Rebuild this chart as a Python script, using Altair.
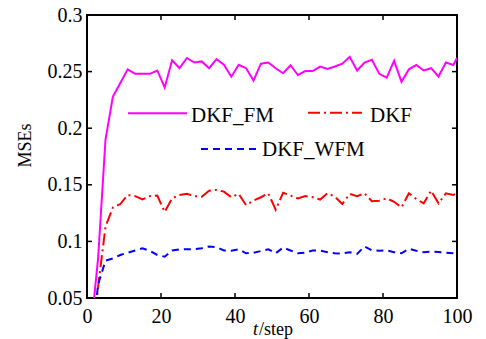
import altair as alt
import pandas as pd

# ---------------- data ----------------
steps = [1, 3, 5, 7, 9, 11, 13, 15, 17, 19, 21, 23, 25, 27, 29, 31, 33, 35, 37, 39,
         41, 43, 45, 47, 49, 51, 53, 55, 57, 59, 61, 63, 65, 67, 69, 71, 73, 75, 77, 79,
         81, 83, 85, 87, 89, 91, 93, 95, 97, 99, 100]

dkf_fm = [0.02, 0.085, 0.19, 0.228, 0.240, 0.252, 0.248, 0.248, 0.248, 0.251,
          0.236, 0.260, 0.253, 0.262, 0.258, 0.259, 0.253, 0.261, 0.256, 0.2455,
          0.256, 0.253, 0.242, 0.257, 0.258, 0.253, 0.2485, 0.2556, 0.247, 0.2505,
          0.2505, 0.2544, 0.2523, 0.2545, 0.257, 0.263, 0.251, 0.258, 0.2605, 0.248,
          0.2447, 0.2597, 0.241, 0.252, 0.2558, 0.251, 0.253, 0.2457, 0.258, 0.2558,
          0.262]

dkf = [0.0, 0.06, 0.113, 0.130, 0.133, 0.141, 0.140, 0.137, 0.140, 0.1405,
       0.126, 0.138, 0.141, 0.142, 0.140, 0.1395, 0.1448, 0.1455, 0.144, 0.139,
       0.142, 0.132, 0.136, 0.139, 0.1425, 0.128, 0.143, 0.1405, 0.138, 0.140,
       0.139, 0.137, 0.1425, 0.1395, 0.133, 0.142, 0.140, 0.1425, 0.1355, 0.136,
       0.138, 0.135, 0.130, 0.1425, 0.1375, 0.1336, 0.1448, 0.1336, 0.1425, 0.141,
       0.1425]

dkf_wfm = [0.0, 0.062, 0.083, 0.085, 0.088, 0.090, 0.092, 0.094, 0.0915, 0.088,
           0.0865, 0.092, 0.093, 0.093, 0.093, 0.094, 0.0955, 0.095, 0.092, 0.0918,
           0.093, 0.0895, 0.090, 0.0915, 0.093, 0.0895, 0.0945, 0.092, 0.0895, 0.090,
           0.092, 0.0918, 0.0905, 0.0895, 0.0893, 0.0905, 0.089, 0.0955, 0.092, 0.0918,
           0.092, 0.0905, 0.0895, 0.0935, 0.0918, 0.0905, 0.091, 0.0906, 0.090, 0.0895,
           0.089]

series_names = ["DKF_FM", "DKF", "DKF_WFM"]
x_ticks = [0, 20, 40, 60, 80, 100]
y_ticks = [0.05, 0.1, 0.15, 0.2, 0.25, 0.3]

# ---------------- style ----------------
W, H = 370, 283
FONT = "Liberation Serif"

xscale = alt.Scale(domain=[0, 100], nice=False, zero=False)
yscale = alt.Scale(domain=[0.05, 0.3], nice=False, zero=False)

x_axis = alt.Axis(values=x_ticks, title=None, labelPadding=8, labelFlush=False)
y_axis = alt.Axis(values=y_ticks, format=".2~f", title="MSEs", labelPadding=5,
                  titleX=-53, titleY=130)

X = alt.X("t:Q", scale=xscale, axis=x_axis)
Y = alt.Y("mse:Q", scale=yscale, axis=y_axis)


def series_df(vals, name):
    return pd.DataFrame({"t": steps, "mse": vals, "series": name})


def line_layer(vals, name, color, dash=None):
    kw = dict(color=color, strokeWidth=2, clip=True)
    if dash:
        kw["strokeDash"] = dash
    return alt.Chart(series_df(vals, name)).mark_line(**kw).encode(x=X, y=Y)


l_fm = line_layer(dkf_fm, series_names[0], "#FF00FF")
l_dkf = line_layer(dkf, series_names[1], "#FF0000", dash=[12, 4, 2, 4])
l_wfm = line_layer(dkf_wfm, series_names[2], "#0000FF", dash=[7, 5])

# inward ticks on all four sides
xt = pd.DataFrame({"t": x_ticks})
yt = pd.DataFrame({"mse": y_ticks})
tick_kw = dict(color="black", strokeWidth=1.5)
t_bottom = alt.Chart(xt).mark_rule(**tick_kw).encode(
    x=X, y=alt.value(H), y2=alt.value(H - 5))
t_top = alt.Chart(xt).mark_rule(**tick_kw).encode(
    x=X, y=alt.value(0), y2=alt.value(5))
t_left = alt.Chart(yt).mark_rule(**tick_kw).encode(
    y=Y, x=alt.value(0), x2=alt.value(5))
t_right = alt.Chart(yt).mark_rule(**tick_kw).encode(
    y=Y, x=alt.value(W), x2=alt.value(W - 5))

# legend (drawn inside the plot)
one = pd.DataFrame({"k": [0]})


def leg_line(x1, x2, y, color, dash=None):
    kw = dict(color=color, strokeWidth=2)
    if dash:
        kw["strokeDash"] = dash
    return alt.Chart(one).mark_rule(**kw).encode(
        x=alt.value(x1), x2=alt.value(x2), y=alt.value(y))


def leg_text(x, y, label, size=21, style="normal"):
    return alt.Chart(one).mark_text(font=FONT, fontSize=size, fontStyle=style,
                                    align="left", baseline="alphabetic",
                                    color="black").encode(
        x=alt.value(x), y=alt.value(y), text=alt.value(label))


legend = [
    leg_line(41, 100, 98.3, "#FF00FF"),
    leg_text(104, 106.7, series_names[0]),
    leg_line(221, 275, 97.7, "#FF0000", [12, 4, 2, 4]),
    leg_text(283, 106.7, series_names[1]),
    leg_line(114, 169, 134, "#0000FF", [7, 5]),
    leg_text(175, 141, series_names[2]),
]

# x-axis title with italic t
xt_t = leg_text(166, 320, "t", size=18, style="italic")
xt_step = leg_text(172, 320, "/step", size=18)

chart = alt.layer(
    l_fm, l_dkf, l_wfm, t_bottom, t_top, t_left, t_right, *legend, xt_t, xt_step
).properties(
    width=W, height=H,
    autosize=alt.AutoSizeParams(type="none"),
    padding={"left": 87, "top": 15, "right": 29, "bottom": 41},
    background="white",
).configure_view(stroke="black", strokeWidth=2).configure_axis(
    labelFont=FONT, labelFontSize=20, labelColor="black",
    titleFont=FONT, titleFontSize=18, titleFontWeight="normal", titleColor="black",
    ticks=False, grid=False, domain=False,
)

chart.save("out.html", embed_options={"renderer": "svg", "actions": False})
